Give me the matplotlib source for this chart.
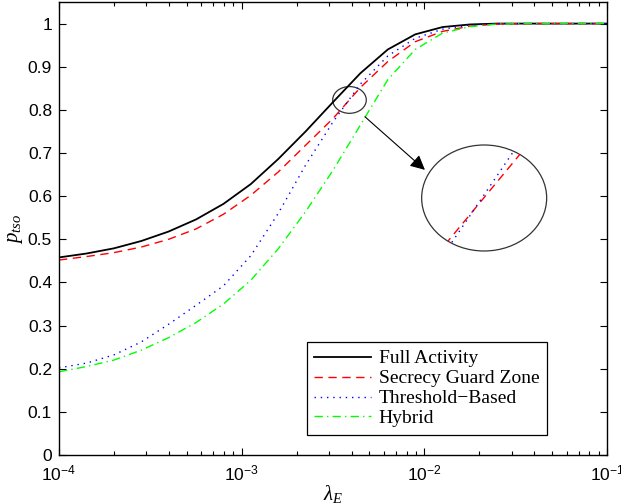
import numpy as np
import matplotlib
matplotlib.use('Agg')
import matplotlib.pyplot as plt
from matplotlib.patches import Ellipse

plt.rcParams['font.family'] = ['Liberation Sans', 'DejaVu Sans']
plt.rcParams['mathtext.fontset'] = 'custom'
plt.rcParams['mathtext.rm'] = 'Liberation Sans'
plt.rcParams['mathtext.it'] = 'Liberation Serif:italic'
plt.rcParams['mathtext.bf'] = 'Liberation Serif:bold'

# 窃听者密度（对数等间隔采样）
lam_exp = [-4.0, -3.85, -3.7, -3.55, -3.4, -3.25, -3.1, -2.95, -2.8, -2.65, -2.5,
           -2.35, -2.2, -2.05, -1.9, -1.75, -1.6, -1.45, -1.3, -1.15, -1.0]
lam = [10 ** e for e in lam_exp]

p_full = [0.458, 0.467, 0.479, 0.496, 0.518, 0.546, 0.582, 0.628, 0.686, 0.750, 0.818,
          0.885, 0.940, 0.975, 0.992, 0.998, 1.0, 1.0, 1.0, 1.0, 1.0]
p_guard = [0.452, 0.460, 0.469, 0.482, 0.500, 0.524, 0.558, 0.602, 0.656, 0.718, 0.780,
           0.852, 0.912, 0.958, 0.982, 0.994, 0.999, 1.0, 1.0, 1.0, 1.0]
p_thresh = [0.202, 0.213, 0.232, 0.262, 0.303, 0.347, 0.392, 0.462, 0.560, 0.672, 0.772,
            0.860, 0.925, 0.966, 0.987, 0.997, 1.0, 1.0, 1.0, 1.0, 1.0]
p_hybrid = [0.193, 0.205, 0.220, 0.243, 0.272, 0.307, 0.350, 0.405, 0.478, 0.564, 0.660,
            0.765, 0.870, 0.940, 0.978, 0.993, 0.999, 1.0, 1.0, 1.0, 1.0]

labels = ['Full Activity', 'Secrecy Guard Zone', 'Threshold\u2212Based', 'Hybrid']

# 放大区域（数据坐标）
zoom_lam = (3.15e-3, 4.81e-3)
zoom_p = (0.792, 0.854)

fig = plt.figure(figsize=(6.21, 5.04), dpi=100)
ax = fig.add_axes([0.095, 0.0972, 0.8825, 0.8988])

ax.plot(lam, p_full, 'k-', lw=1.3, label=labels[0])
ax.plot(lam, p_guard, '--', color='#ff0000', lw=1.0, dashes=(6, 4), label=labels[1])
ax.plot(lam, p_thresh, ':', color='#0000ff', lw=1.0, dashes=(1, 3.5), label=labels[2])
ax.plot(lam, p_hybrid, '-.', color='#00ff00', lw=1.0, dashes=(6, 3, 1, 3), label=labels[3])

ax.set_xscale('log')
ax.set_xlim(1e-4, 1e-1)
ax.set_ylim(0, 1.05)
ax.set_yticks(np.arange(0, 1.01, 0.1))
ax.set_yticklabels(['0', '0.1', '0.2', '0.3', '0.4', '0.5', '0.6', '0.7', '0.8', '0.9', '1'])
ax.tick_params(which='both', direction='in', top=True, right=True, labelsize=12.5)
ax.tick_params(which='major', length=5, width=0.8, pad=5)
ax.tick_params(which='minor', length=3, width=0.8)
ax.tick_params(axis='x', pad=6)
for s in ax.spines.values():
    s.set_linewidth(1.0)

ax.set_xlabel(r'$\lambda_E$', fontsize=15, labelpad=0)
ax.set_ylabel(r'$p_{tso}$', fontsize=15, labelpad=2)

leg = ax.legend(loc='lower right', bbox_to_anchor=(0.8905, 0.044), fancybox=False,
                edgecolor='k', framealpha=1, handlelength=2.9, handletextpad=0.4,
                borderpad=0.4, borderaxespad=0, labelspacing=0.12,
                prop={'family': 'Liberation Serif', 'size': 14})
leg.get_frame().set_linewidth(0.9)

# 小圈：放大区域的位置
fig.canvas.draw()
(x0, y0) = ax.transAxes.inverted().transform(ax.transData.transform((zoom_lam[0], zoom_p[0])))
(x1, y1) = ax.transAxes.inverted().transform(ax.transData.transform((zoom_lam[1], zoom_p[1])))
ax.add_patch(Ellipse(((x0 + x1) / 2, (y0 + y1) / 2), x1 - x0, y1 - y0,
                     transform=ax.transAxes, fill=False, ec='#333333', lw=0.9))

# 放大视图
ins = fig.add_axes([0.679, 0.502, 0.2013, 0.2103])
ins.set_xscale('log')
ins.set_xlim(zoom_lam)
ins.set_ylim(zoom_p)
ins.axis('off')
circ = Ellipse((0.5, 0.5), 1, 1, transform=ins.transAxes, fill=False, ec='#333333',
               lw=0.9, clip_on=False)
ins.add_patch(circ)
l1, = ins.plot(lam, p_guard, '--', color='#ff0000', lw=1.0, dashes=(6, 4))
l2, = ins.plot(lam, p_thresh, ':', color='#0000ff', lw=1.0, dashes=(1, 3.5))
l1.set_clip_path(circ)
l2.set_clip_path(circ)

# 箭头
ax.annotate('', xy=(1.007e-2, 0.661), xytext=(4.73e-3, 0.784),
            arrowprops=dict(arrowstyle='-|>', color='k', lw=0.8,
                            mutation_scale=22, shrinkA=0, shrinkB=0))

fig.savefig('out.png', dpi=100)
